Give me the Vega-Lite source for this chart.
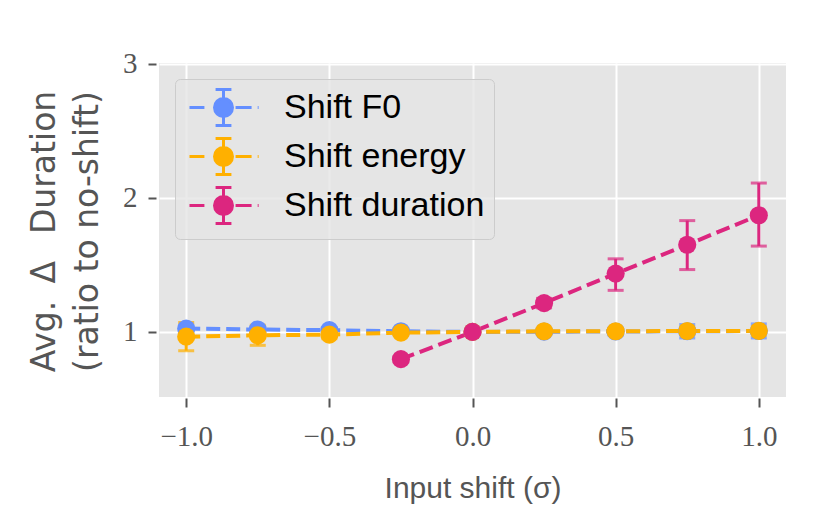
{
  "$schema": "https://vega.github.io/schema/vega-lite/v6.json",
  "width": 627,
  "height": 334,
  "autosize": {"type": "none"},
  "padding": {"left": 159, "top": 63, "right": 44, "bottom": 119},
  "background": "white",
  "data": {
    "values": [
      {"series": "Shift F0", "x": -1.0, "y": 1.025, "lo": 1.0, "hi": 1.05},
      {"series": "Shift F0", "x": -0.75, "y": 1.018, "lo": 0.995, "hi": 1.04},
      {"series": "Shift F0", "x": -0.5, "y": 1.013, "lo": 0.995, "hi": 1.03},
      {"series": "Shift F0", "x": -0.25, "y": 1.005, "lo": 0.99, "hi": 1.02},
      {"series": "Shift F0", "x": 0.0, "y": 1.0, "lo": 1.0, "hi": 1.0},
      {"series": "Shift F0", "x": 0.25, "y": 1.002, "lo": 0.985, "hi": 1.02},
      {"series": "Shift F0", "x": 0.5, "y": 1.003, "lo": 0.975, "hi": 1.03},
      {"series": "Shift F0", "x": 0.75, "y": 1.005, "lo": 0.955, "hi": 1.055},
      {"series": "Shift F0", "x": 1.0, "y": 1.007, "lo": 0.955, "hi": 1.06},
      {"series": "Shift energy", "x": -1.0, "y": 0.965, "lo": 0.86, "hi": 1.07},
      {"series": "Shift energy", "x": -0.75, "y": 0.975, "lo": 0.9, "hi": 1.05},
      {"series": "Shift energy", "x": -0.5, "y": 0.98, "lo": 0.95, "hi": 1.01},
      {"series": "Shift energy", "x": -0.25, "y": 0.995, "lo": 0.98, "hi": 1.01},
      {"series": "Shift energy", "x": 0.0, "y": 1.0, "lo": 1.0, "hi": 1.0},
      {"series": "Shift energy", "x": 0.25, "y": 1.005, "lo": 0.99, "hi": 1.02},
      {"series": "Shift energy", "x": 0.5, "y": 1.005, "lo": 0.985, "hi": 1.025},
      {"series": "Shift energy", "x": 0.75, "y": 1.007, "lo": 0.98, "hi": 1.035},
      {"series": "Shift energy", "x": 1.0, "y": 1.008, "lo": 0.975, "hi": 1.04},
      {"series": "Shift duration", "x": -0.25, "y": 0.797, "lo": 0.78, "hi": 0.815},
      {"series": "Shift duration", "x": 0.0, "y": 1.0, "lo": 1.0, "hi": 1.0},
      {"series": "Shift duration", "x": 0.25, "y": 1.215, "lo": 1.18, "hi": 1.25},
      {"series": "Shift duration", "x": 0.5, "y": 1.435, "lo": 1.31, "hi": 1.545},
      {"series": "Shift duration", "x": 0.75, "y": 1.65, "lo": 1.465, "hi": 1.83},
      {"series": "Shift duration", "x": 1.0, "y": 1.87, "lo": 1.64, "hi": 2.11}
    ]
  },
  "encoding": {
    "x": {
      "field": "x",
      "type": "quantitative",
      "scale": {"domain": [-1.095, 1.095], "nice": false, "zero": false},
      "axis": {
        "values": [-1, -0.5, 0, 0.5, 1],
        "format": ".1f",
        "title": "Input shift (σ)",
        "offset": 1,
        "tickSize": 9,
        "labelPadding": 15,
        "titlePadding": 22,
        "titleFont": "Liberation Sans",
        "titleFontSize": 30
      }
    },
    "color": {
      "field": "series",
      "type": "nominal",
      "scale": {
        "domain": ["Shift F0", "Shift energy", "Shift duration"],
        "range": ["#648FFF", "#FFB000", "#DC267F"]
      },
      "legend": {
        "orient": "top-left",
        "offset": 16,
        "title": null,
        "symbolType": "M-1.89,0H-1.06M0.67,0H1.56M1.9,0H1.95M0,-1V1M-0.44,-1H0.44M-0.44,1H0.44M0.5,0A0.5,0.5,0,1,1,-0.5,0A0.5,0.5,0,1,1,0.5,0Z",
        "symbolSize": 1296,
        "symbolStrokeWidth": 3,
        "symbolOffset": 20,
        "labelOffset": 41,
        "labelLimit": 400,
        "rowPadding": 0,
        "padding": 9,
        "labelFont": "Liberation Sans",
        "labelFontSize": 34,
        "labelColor": "black",
        "fillColor": "rgba(229,229,229,0.8)",
        "strokeColor": "#cccccc",
        "cornerRadius": 5,
        "encode": {
          "symbols": {
            "update": {
              "fill": {"scale": "color", "field": "value"},
              "stroke": {"scale": "color", "field": "value"},
              "strokeWidth": {"value": 3},
              "strokeDash": {"value": []},
              "opacity": {"value": 1}
            }
          }
        }
      }
    }
  },
  "layer": [
    {
      "mark": {"type": "line", "strokeWidth": 4, "strokeDash": [14, 6]},
      "encoding": {
        "y": {
          "field": "y",
          "type": "quantitative",
          "scale": {"domain": [0.515, 3.005], "nice": false, "zero": false},
          "axis": {
            "values": [1, 2, 3],
            "format": "d",
            "title": ["Avg. \u2009Δ \u2002Duration", "(ratio to no-shift)"],
            "offset": 3,
            "tickSize": 8,
            "labelPadding": 11,
            "titleFont": "DejaVu Sans",
            "titleFontSize": 33,
            "titleLineHeight": 43,
            "titleBaseline": "alphabetic",
            "titleAngle": -90,
            "titleAlign": "center",
            "titleX": -102,
            "titleY": 168
          }
        }
      }
    },
    {
      "mark": {"type": "errorbar", "thickness": 3, "ticks": {"size": 16, "thickness": 3}},
      "encoding": {
        "y": {"field": "lo", "type": "quantitative", "axis": null},
        "y2": {"field": "hi"}
      }
    },
    {
      "mark": {"type": "point", "filled": true, "shape": "circle", "size": 330, "opacity": 1},
      "encoding": {
        "y": {"field": "y", "type": "quantitative", "axis": null}
      }
    }
  ],
  "resolve": {"axis": {"y": "independent"}},
  "config": {
    "view": {"fill": "#E5E5E5", "stroke": null},
    "axis": {
      "domain": false,
      "grid": true,
      "gridColor": "white",
      "gridWidth": 2,
      "gridOpacity": 1,
      "tickColor": "#555555",
      "tickWidth": 2,
      "labelFont": "Liberation Serif",
      "labelFontSize": 29,
      "labelColor": "#555555",
      "titleColor": "#555555",
      "titleFontWeight": "normal"
    }
  }
}
